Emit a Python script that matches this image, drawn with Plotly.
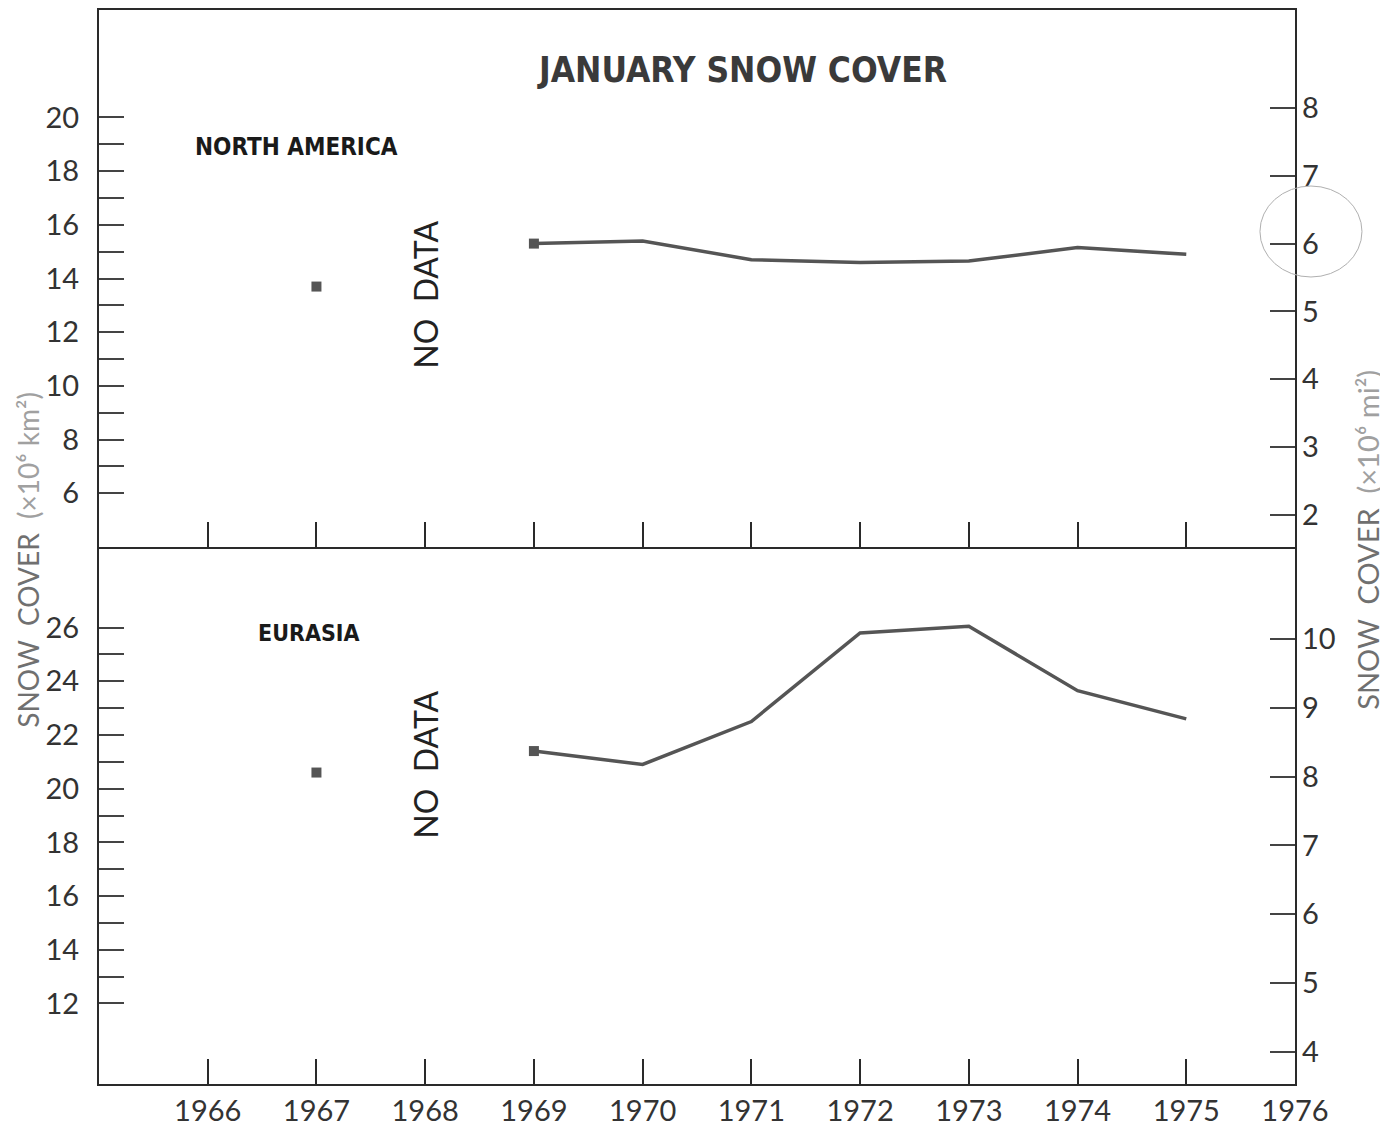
import plotly.graph_objects as go

# ---- data ----
years = [1967, 1969, 1970, 1971, 1972, 1973, 1974, 1975]
north_america = [13.7, 15.3, 15.4, 14.7, 14.6, 14.65, 15.15, 14.9]   # 10^6 km^2
eurasia = [20.6, 21.4, 20.9, 22.5, 25.8, 26.05, 23.65, 22.6]          # 10^6 km^2
x_ticks = [1966, 1967, 1968, 1969, 1970, 1971, 1972, 1973, 1974, 1975, 1976]
na_km_ticks = [6, 8, 10, 12, 14, 16, 18, 20]
eu_km_ticks = [12, 14, 16, 18, 20, 22, 24, 26]
na_mi_ticks = [2, 3, 4, 5, 6, 7, 8]
eu_mi_ticks = [4, 5, 6, 7, 8, 9, 10]
KM2_PER_MI2 = 2.59

LINE = "#555555"
AX = "#2a2a2a"
TXT = "#333333"
TICKFONT = dict(family="Lato, Liberation Sans, sans-serif", size=29, color=TXT)
BOLD = "DejaVu Sans Condensed, Liberation Sans, sans-serif"

fig = go.Figure()

def add_panel(vals, xa, ya, ya_r):
    fig.add_trace(go.Scatter(x=years[:2], y=vals[:2], mode="markers",
                             marker=dict(symbol="square", size=10, color=LINE),
                             xaxis=xa, yaxis=ya, showlegend=False, hoverinfo="skip"))
    fig.add_trace(go.Scatter(x=years[1:], y=vals[1:], mode="lines",
                             line=dict(color=LINE, width=3.5),
                             xaxis=xa, yaxis=ya, showlegend=False))
    fig.add_trace(go.Scatter(x=years, y=[v / KM2_PER_MI2 for v in vals], mode="markers",
                             marker=dict(opacity=0), xaxis=xa, yaxis=ya_r,
                             showlegend=False, hoverinfo="skip"))

add_panel(north_america, "x", "y", "y3")
add_panel(eurasia, "x2", "y2", "y4")

common_x = dict(range=[1965, 1976], showgrid=False, zeroline=False, showline=True,
                linecolor=AX, linewidth=2, ticks="inside", ticklen=25,
                tickwidth=1.5, tickcolor=AX, tickfont=TICKFONT, ticklabelstandoff=0,
                automargin=False)

common_y = dict(showgrid=False, zeroline=False, showline=True, linecolor=AX, linewidth=2,
                mirror=True, ticks="inside", ticklen=25, tickwidth=1.5, tickcolor="#444",
                tickfont=TICKFONT, ticklabelstandoff=12, automargin=False)

right_y = dict(showgrid=False, zeroline=False, showline=False, side="right",
               ticks="inside", ticklen=25, tickwidth=1.5, tickcolor="#444",
               tickfont=TICKFONT, ticklabelstandoff=6, automargin=False)

fig.update_layout(
    width=1380, height=1118,
    margin=dict(l=91, r=93, t=2, b=42),
    paper_bgcolor="white", plot_bgcolor="white",
    xaxis=dict(common_x, domain=[0, 1], anchor="y", tickvals=x_ticks[:-1],
               showticklabels=False, mirror=True),
    xaxis2=dict(common_x, domain=[0, 1], anchor="y2", tickvals=x_ticks, matches="x",
                mirror=False),
    yaxis=dict(common_y, domain=[0.5, 1], range=[4, 24], anchor="x", tickvals=na_km_ticks,
               minor=dict(tickvals=[v + 1 for v in na_km_ticks[:-1]], ticks="inside",
                          ticklen=25, tickwidth=1.5, tickcolor="#444")),
    yaxis2=dict(common_y, domain=[0, 0.5], range=[9, 29], anchor="x2", tickvals=eu_km_ticks,
                minor=dict(tickvals=[v + 1 for v in eu_km_ticks[:-1]], ticks="inside",
                           ticklen=25, tickwidth=1.5, tickcolor="#444")),
    yaxis3=dict(right_y, overlaying="y", anchor="x", range=[1.53, 9.44], tickvals=na_mi_ticks),
    yaxis4=dict(right_y, overlaying="y2", anchor="x2", range=[3.53, 11.34], tickvals=eu_mi_ticks),
)

C = dict(xanchor="center", yanchor="middle", showarrow=False)
annotations = [
    dict(C, text="<b>JANUARY SNOW COVER</b>", x=0.538, y=0.944, xref="paper", yref="paper",
         font=dict(family=BOLD, size=35, color="#3a3a3a")),
    dict(C, text="<b>NORTH AMERICA</b>", x=0.0786, y=0.8724, xref="paper", yref="paper",
         xanchor="left", font=dict(family=BOLD, size=24, color="#1a1a1a")),
    dict(C, text="<b>EURASIA</b>", x=0.1313, y=0.4199, xref="paper", yref="paper",
         xanchor="left", font=dict(family=BOLD, size=23, color="#1a1a1a")),
    dict(C, text="NO  DATA", x=1968, y=13.4, xref="x", yref="y", textangle=-90,
         font=dict(family="Lato, sans-serif", size=32, color="#222")),
    dict(C, text="NO  DATA", x=1968, y=20.9, xref="x2", yref="y2", textangle=-90,
         font=dict(family="Lato, sans-serif", size=32, color="#222")),
    dict(C, text="SNOW  COVER  <span style='color:#a0a0a0'>(×10⁶ km²)</span>",
         x=-0.0595, y=0.488, xref="paper", yref="paper", textangle=-90,
         font=dict(family="Lato, DejaVu Sans, sans-serif", size=28, color="#707070")),
    dict(C, text="SNOW  COVER  <span style='color:#a0a0a0'>(×10⁶ mi²)</span>",
         x=1.06, y=0.5065, xref="paper", yref="paper", textangle=-90,
         font=dict(family="Lato, DejaVu Sans, sans-serif", size=29, color="#707070")),
]
fig.update_layout(annotations=annotations)

fig.add_shape(type="circle", xref="paper", yref="paper", x0=0.9707, x1=1.056,
              y0=0.7514, y1=0.8361, line=dict(color="#b0b0b0", width=1))

fig.write_html("out.html")
